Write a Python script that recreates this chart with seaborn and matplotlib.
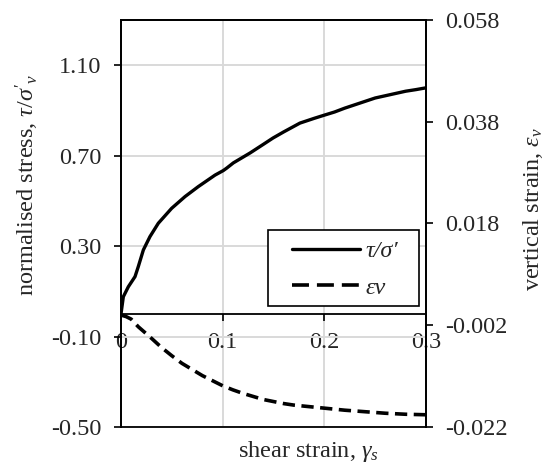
import numpy as np
import pandas as pd
import seaborn as sns
import matplotlib.pyplot as plt
from matplotlib.patches import Rectangle
from matplotlib.ticker import FixedLocator, FormatStrFormatter

# shear strain values
gamma_tau = [0, 0.0023, 0.0072, 0.0138, 0.017, 0.022, 0.0285, 0.0367, 0.0498, 0.063,
             0.076, 0.0925, 0.1006, 0.104, 0.1105, 0.127, 0.14, 0.1495, 0.16, 0.176,
             0.19, 0.2006, 0.21, 0.22, 0.23, 0.24, 0.25, 0.26, 0.27, 0.28, 0.29, 0.3]
tau = [0, 0.076, 0.12, 0.165, 0.209, 0.283, 0.342, 0.401, 0.467, 0.519,
       0.563, 0.614, 0.634, 0.645, 0.668, 0.712, 0.75, 0.778, 0.805, 0.844,
       0.865, 0.88, 0.893, 0.91, 0.925, 0.94, 0.955, 0.965, 0.975, 0.985, 0.992, 1.0]

gamma_eps = [0, 0.005, 0.01, 0.017, 0.0285, 0.04, 0.05, 0.06, 0.07, 0.08, 0.09,
             0.1, 0.11, 0.12, 0.13, 0.14, 0.15, 0.16, 0.17, 0.18, 0.19, 0.2,
             0.22, 0.24, 0.26, 0.28, 0.3]
eps_v = [0, -0.0003, -0.0008, -0.0023, -0.0043, -0.0064, -0.0080, -0.0095, -0.0107,
         -0.0119, -0.0129, -0.0139, -0.0147, -0.0154, -0.0160, -0.0166, -0.0170,
         -0.0174, -0.0177, -0.0179, -0.0181, -0.0183, -0.0187, -0.0190, -0.0193,
         -0.0195, -0.0196]

left_ticks = [-0.50, -0.10, 0.30, 0.70, 1.10]
right_ticks = [-0.022, -0.002, 0.018, 0.038, 0.058]
x_ticks = [0, 0.1, 0.2, 0.3]
x_labels = ['0', '0.1', '0.2', '0.3']
legend_labels = ['τ/σ′', 'εv']

sns.set_style('white')
plt.rcParams['font.family'] = ['Liberation Serif', 'DejaVu Serif']
plt.rcParams['mathtext.fontset'] = 'custom'
plt.rcParams['mathtext.rm'] = 'Liberation Serif'
plt.rcParams['mathtext.it'] = 'Liberation Serif:italic'
plt.rcParams['axes.unicode_minus'] = False

df_tau = pd.DataFrame({'gamma': gamma_tau, 'tau': tau})
df_eps = pd.DataFrame({'gamma': gamma_eps, 'eps': eps_v})

fig = plt.figure(figsize=(5.55, 4.67), dpi=100)
ax = fig.add_axes([0.218, 0.0857, 0.5496, 0.8715])
ax2 = ax.twinx()

fs = 17.5
ax.grid(True, color='#d9d9d9', linewidth=1.4)
ax.set_axisbelow(True)

sns.lineplot(data=df_tau, x='gamma', y='tau', ax=ax, color='black', lw=2.4,
             legend=False)
sns.lineplot(data=df_eps, x='gamma', y='eps', ax=ax2, color='black', lw=2.6,
             legend=False)
ax2.lines[0].set_dashes((3.4, 1.8))

ax.set_xlim(0, 0.3)
ax.set_ylim(-0.5, 1.3)
ax2.set_ylim(-0.022, 0.058)

ax.yaxis.set_major_locator(FixedLocator(left_ticks))
ax.yaxis.set_major_formatter(FormatStrFormatter('%.2f'))
ax2.yaxis.set_major_locator(FixedLocator(right_ticks))
ax2.yaxis.set_major_formatter(FormatStrFormatter('%.3f'))
ax.set_xticks(x_ticks)
ax.set_xticklabels(x_labels)

ax.spines['bottom'].set_position(('data', 0))
for a in (ax, ax2):
    for s in a.spines.values():
        s.set_color('black')
        s.set_linewidth(1.3)

ax.tick_params(axis='y', direction='out', length=5, width=1.2, pad=9,
               labelsize=fs, color='black', left=True)
ax.tick_params(axis='x', direction='out', length=5, width=1.2, pad=8,
               labelsize=fs, color='black', bottom=True)
ax2.tick_params(axis='y', direction='out', length=5, width=1.2, pad=9,
                labelsize=fs, color='black', right=True)

ax.set_xlabel(r'shear strain, $\gamma_s$', fontsize=fs)
ax.xaxis.set_label_coords(0.613, -0.03)
ax.set_ylabel(r"normalised stress, $\tau/\sigma'_v$", fontsize=fs)
ax.yaxis.set_label_coords(-0.262, 0.595)
ax2.set_ylabel(r'vertical strain, $\varepsilon_v$', fontsize=fs)
ax2.yaxis.set_label_coords(1.311, 0.535)

# legend frame drawn as a box, entries placed inside it
ax2.add_patch(Rectangle((0.482, 0.297), 0.495, 0.187, transform=ax2.transAxes,
                        facecolor='white', edgecolor='black', lw=1.2, zorder=4))
handles = [ax.lines[0], ax2.lines[0]]
leg = ax2.legend(handles=handles, labels=legend_labels,
                 loc='center', bbox_to_anchor=(0.735, 0.387),
                 prop={'family': ['Liberation Serif', 'DejaVu Serif'],
                       'style': 'italic', 'size': fs},
                 frameon=False, handlelength=2.8,
                 labelspacing=0.6, borderpad=0, borderaxespad=0,
                 handletextpad=0.2)
leg.set_zorder(5)
leg.get_lines()[1].set_dashes((4.7, 2.2))

fig.savefig('out.png', dpi=100)
